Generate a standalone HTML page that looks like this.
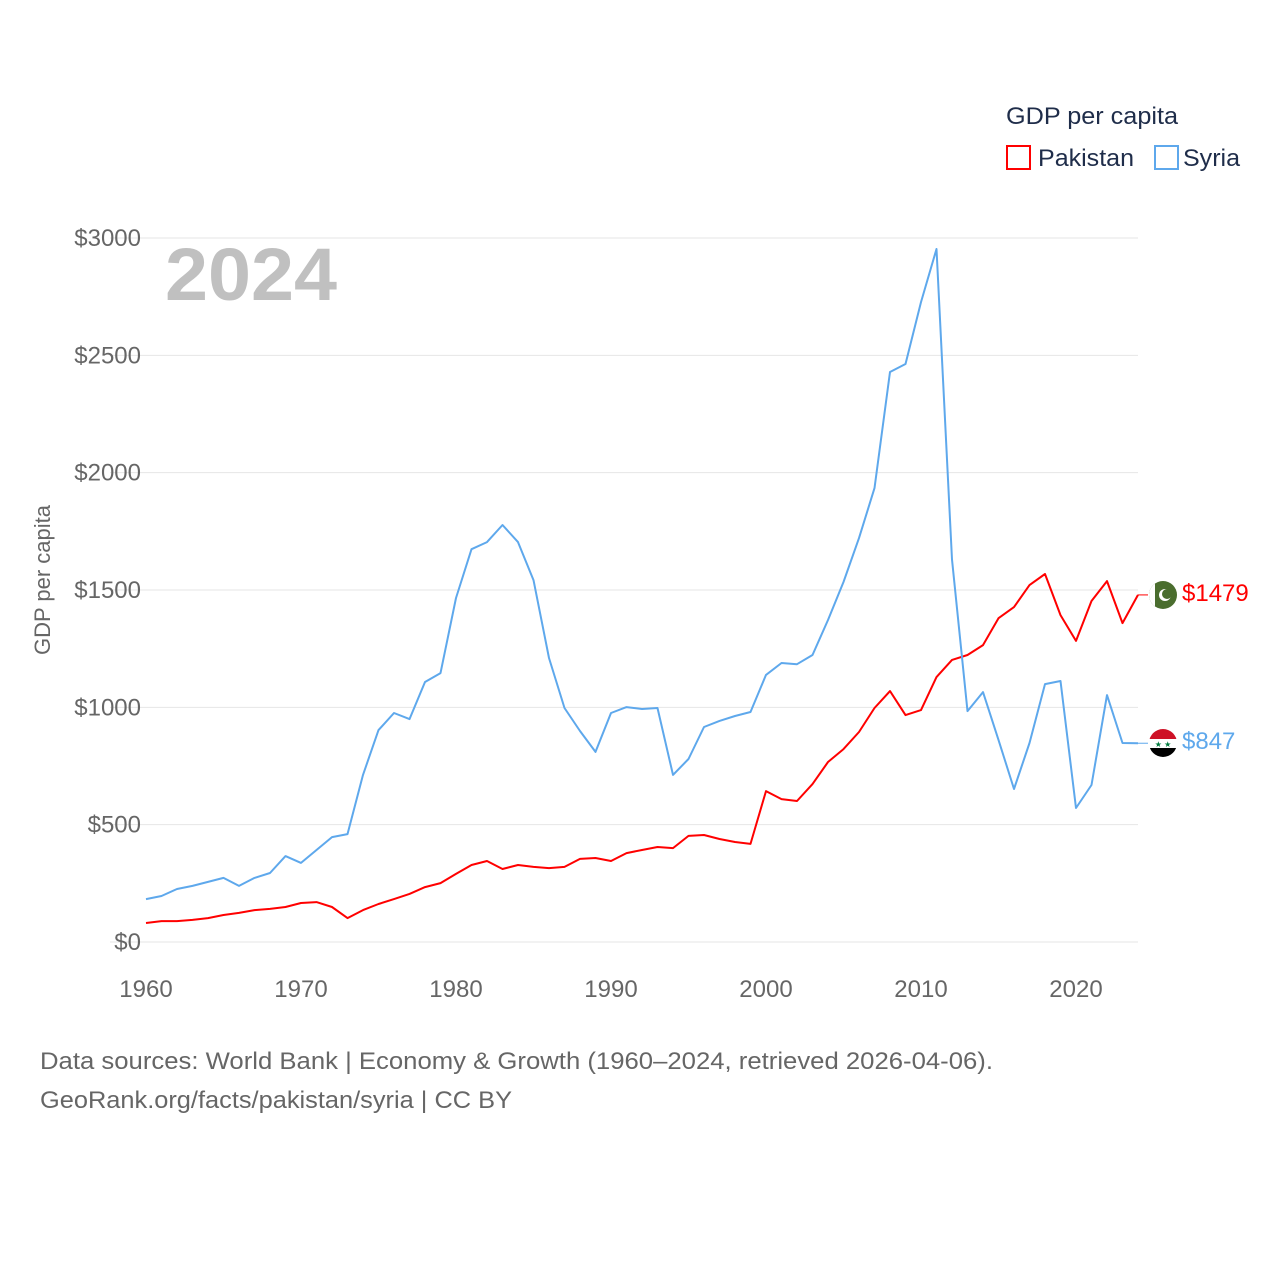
<!DOCTYPE html>
<html><head><meta charset="utf-8"><style>
html,body{margin:0;padding:0;background:#fff}
body{width:1280px;height:1280px;overflow:hidden;font-family:"Liberation Sans",sans-serif}
</style></head><body>
<svg id="chart" width="1280" height="1280" xmlns="http://www.w3.org/2000/svg" font-family="Liberation Sans, sans-serif">
<g id="grid"></g>
<g id="yticks"></g>
<g id="xticks"></g>
<text x="165" y="300" font-size="74" font-weight="bold" fill="#c0c0c0" textLength="172" lengthAdjust="spacingAndGlyphs">2024</text>
<text transform="translate(50,580) rotate(-90)" text-anchor="middle" font-size="22" fill="#666">GDP per capita</text>
<g id="series"></g>
<g>
<text x="1006" y="124" font-size="24" fill="#1f2d4a" textLength="172" lengthAdjust="spacingAndGlyphs">GDP per capita</text>
<rect x="1007" y="146" width="23" height="23" fill="none" stroke="#ff0000" stroke-width="2"/>
<text x="1038" y="166" font-size="24" fill="#1f2d4a" textLength="96" lengthAdjust="spacingAndGlyphs">Pakistan</text>
<rect x="1155" y="146" width="23" height="23" fill="none" stroke="#5ea8ec" stroke-width="2"/>
<text x="1183" y="166" font-size="24" fill="#1f2d4a" textLength="57" lengthAdjust="spacingAndGlyphs">Syria</text>
</g>
<g>
<clipPath id="pc"><circle cx="1163" cy="595" r="14"/></clipPath>
<g clip-path="url(#pc)">
<rect x="1149" y="581" width="28" height="28" fill="#4a6d2e"/>
<rect x="1149" y="581" width="6" height="28" fill="#fff"/>
</g>
<circle cx="1165" cy="595" r="6" fill="#fff"/><circle cx="1167" cy="594" r="5" fill="#4a6d2e"/>
</g>
<g>
<clipPath id="sc"><circle cx="1163" cy="743" r="14"/></clipPath>
<g clip-path="url(#sc)"><rect x="1149" y="729" width="28" height="10" fill="#ce1126"/><rect x="1149" y="739" width="28" height="9" fill="#fff"/><rect x="1149" y="748" width="28" height="10" fill="#000"/></g>
<text x="1163" y="747" font-size="8" text-anchor="middle" fill="#007a3d">★ ★</text>
</g>
<text id="lblP" x="1182" y="601" font-size="24" fill="#ff0000"></text>
<text id="lblS" x="1182" y="749" font-size="24" fill="#5ea8ec"></text>
<text x="40" y="1069" font-size="24" fill="#666" textLength="953" lengthAdjust="spacingAndGlyphs">Data sources: World Bank | Economy &amp; Growth (1960–2024, retrieved 2026-04-06).</text>
<text x="40" y="1108" font-size="24" fill="#666" textLength="472" lengthAdjust="spacingAndGlyphs">GeoRank.org/facts/pakistan/syria | CC BY</text>
</svg>
<script>
const years = [];
for (let y = 1960; y <= 2024; y++) years.push(y);
const pakistan = [81,89,89,94,102,115,124,136,141,149,166,170,149,102,136,162,183,205,234,251,290,328,345,311,328,320,315,320,354,358,345,379,392,405,400,452,456,439,426,418,643,609,601,673,767,822,895,997,1069,967,988,1129,1202,1223,1265,1380,1427,1521,1568,1393,1283,1453,1538,1359,1479];
const syria = [183,196,226,239,256,273,239,273,294,366,337,392,447,460,712,903,976,950,1108,1146,1466,1674,1704,1777,1704,1542,1210,997,899,810,976,1001,993,997,712,780,916,942,963,980,1138,1189,1184,1223,1372,1534,1721,1934,2429,2463,2727,2953,1630,984,1065,861,652,848,1099,1112,571,669,1052,848,847];
const yTicks = [0,500,1000,1500,2000,2500,3000];
const xTicks = [1960,1970,1980,1990,2000,2010,2020];
const NS = "http://www.w3.org/2000/svg";
const xS = v => 146 + (v - 1960) * 15.5;
const yS = v => 942 - v * 0.23467;
function mk(tag, attrs, parent) {
  const e = document.createElementNS(NS, tag);
  for (const k in attrs) e.setAttribute(k, attrs[k]);
  document.getElementById(parent).appendChild(e);
  return e;
}
yTicks.forEach(t => {
  const l = mk("line", {x1:110, x2:1138, y1:yS(t), y2:yS(t), stroke:"#e6e6e6", "stroke-width":1}, "grid");
  
  
  const tx = mk("text", {x:141, y:yS(t)+8, "text-anchor":"end", "font-size":24, fill:"#666"}, "yticks");
  
  
  tx.textContent = "$" + t;
});
xTicks.forEach(t => {
  const tx = mk("text", {x:xS(t), y:997, "text-anchor":"middle", "font-size":24, fill:"#666"}, "xticks");
  
  
  tx.textContent = t;
});
function line(vals, color, name) {
  const d = vals.map((v, i) => (i ? "L" : "M") + xS(years[i]).toFixed(1) + "," + yS(v).toFixed(1)).join("");
  const p = mk("path", {d:d, fill:"none", stroke:color, "stroke-width":2, "stroke-linejoin":"round"}, "series");
  
  
  const last = vals[vals.length - 1];
  const c = mk("line", {x1:xS(2024), x2:1148, y1:yS(last), y2:yS(last), stroke:color, "stroke-width":1}, "series");
  
  
  return last;
}
const lp = line(pakistan, "#ff0000", "pakistan-line");
const ls = line(syria, "#5ea8ec", "syria-line");
document.getElementById("lblP").textContent = "$" + lp;
document.getElementById("lblS").textContent = "$" + ls;
</script>
</body></html>
